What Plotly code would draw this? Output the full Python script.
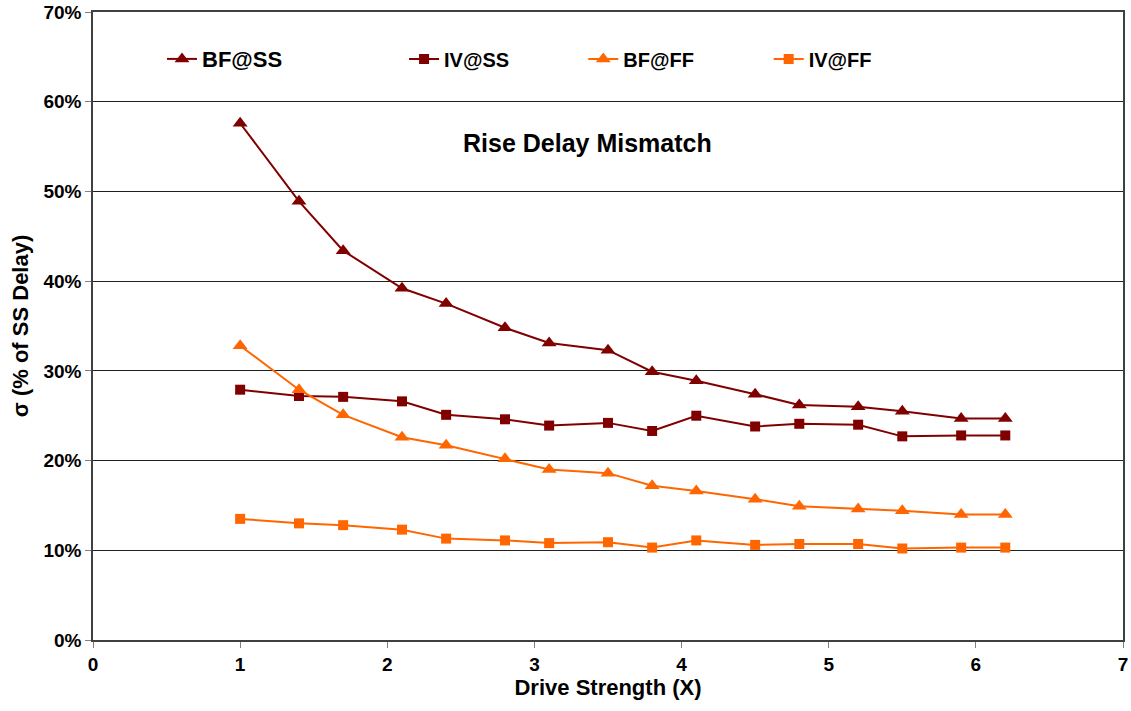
import plotly.graph_objects as go

# drive strength values (X)
drive = [1, 1.4, 1.7, 2.1, 2.4, 2.8, 3.1, 3.5, 3.8, 4.1, 4.5, 4.8, 5.2, 5.5, 5.9, 6.2]

# sigma as % of SS delay
bf_ss = [57.6, 48.9, 43.4, 39.2, 37.5, 34.8, 33.1, 32.3, 29.9, 28.9, 27.4, 26.2, 26.0, 25.5, 24.7, 24.7]
iv_ss = [27.9, 27.2, 27.1, 26.6, 25.1, 24.6, 23.9, 24.2, 23.3, 25.0, 23.8, 24.1, 24.0, 22.7, 22.8, 22.8]
bf_ff = [32.8, 27.9, 25.1, 22.6, 21.7, 20.2, 19.0, 18.6, 17.2, 16.6, 15.7, 14.9, 14.6, 14.4, 14.0, 14.0]
iv_ff = [13.5, 13.0, 12.8, 12.3, 11.3, 11.1, 10.8, 10.9, 10.3, 11.1, 10.6, 10.7, 10.7, 10.2, 10.3, 10.3]

dark_red = "#800000"
orange = "#FF6600"

# name, values, colour, marker, marker size, legend id, legend x, legend font size
series = [
    ("BF@SS", bf_ss, dark_red, "triangle-up", 13, "legend", 0.067, 22),
    ("IV@SS", iv_ss, dark_red, "square", 10, "legend2", 0.302, 20),
    ("BF@FF", bf_ff, orange, "triangle-up", 13, "legend3", 0.476, 20),
    ("IV@FF", iv_ff, orange, "square", 10, "legend4", 0.656, 20),
]

fig = go.Figure()
layout_legends = {}
for name, vals, col, sym, size, leg, lx, fs in series:
    fig.add_trace(go.Scatter(x=drive, y=vals, name=name, mode="lines+markers",
                             line=dict(color=col, width=2),
                             marker=dict(symbol=sym, size=size, color=col),
                             legend=leg))
    layout_legends[leg] = dict(x=lx, y=0.925, xanchor="left", yanchor="middle",
                               bgcolor="rgba(0,0,0,0)", itemwidth=30,
                               font=dict(family="Liberation Sans", size=fs, color="black", weight="bold"))

fig.update_layout(**layout_legends)

# chart title inside the plot
fig.add_annotation(x=0.48, y=0.791, xref="paper", yref="paper", xanchor="center", yanchor="middle",
                   text="<b>Rise Delay Mismatch</b>", showarrow=False,
                   font=dict(family="Liberation Sans", size=25, color="black"))

fig.update_layout(
    width=1131, height=711,
    margin=dict(l=93, r=8, t=12, b=71),
    paper_bgcolor="white", plot_bgcolor="white",
    font=dict(family="Liberation Sans", color="black"),
    showlegend=True,
)

fig.update_xaxes(range=[0, 7], dtick=1, tick0=0, automargin=False,
                 showgrid=False, zeroline=False,
                 showline=True, linecolor="#404040", linewidth=1.5, mirror=True,
                 ticks="outside", ticklen=6, tickcolor="#808080",
                 tickfont=dict(size=19, weight="bold"),
                 title=dict(text="<b>Drive Strength (X)</b>", font=dict(size=22), standoff=4))
fig.update_yaxes(range=[0, 70], dtick=10, tick0=0, automargin=False,
                 ticksuffix="%",
                 showgrid=True, gridcolor="#202020", gridwidth=1, zeroline=False,
                 showline=True, linecolor="#404040", linewidth=1.5, mirror=True,
                 ticks="outside", ticklen=6, tickcolor="#808080",
                 tickfont=dict(size=19, weight="bold"),
                 title=dict(text="<b>σ (% of SS Delay)</b>", font=dict(size=22), standoff=9))

# drop the default page margin so the figure fills the window exactly
fig.write_html("out.html", config={"displayModeBar": False},
               post_script="document.body.style.margin='0';document.body.style.overflow='hidden';")
